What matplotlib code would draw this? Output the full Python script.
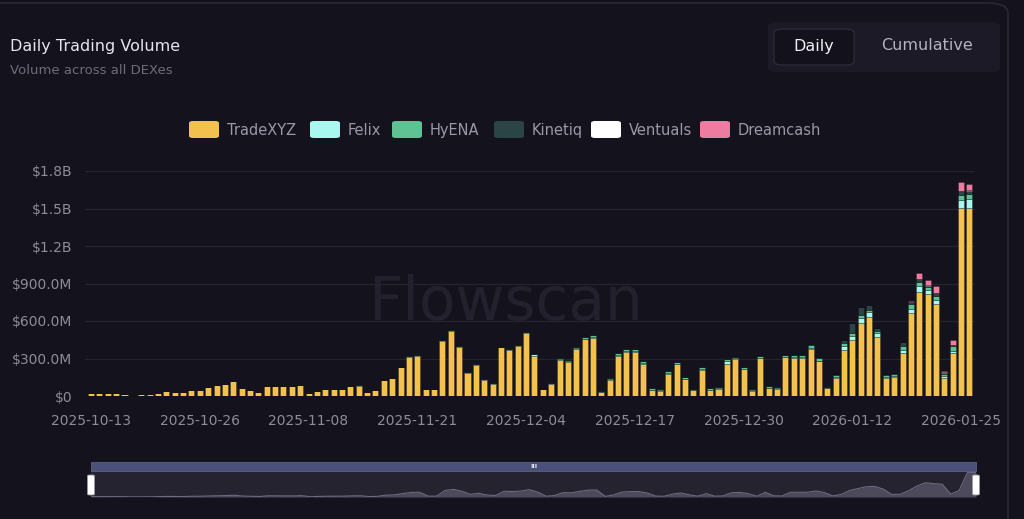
import pandas as pd
import matplotlib
matplotlib.use('Agg')
import matplotlib.pyplot as plt
from matplotlib.patches import FancyBboxPatch, Rectangle
from matplotlib.ticker import FuncFormatter

# daily volume per DEX, in $M, from 2025-10-13
start_date = '2025-10-13'
tradexyz = [28, 28, 26, 24, 20, 12, 14, 14, 28, 40, 36, 30, 52, 52, 70, 85, 100, 120, 65, 50,
            36, 80, 80, 78, 78, 92, 22, 40, 54, 56, 58, 80, 82, 30, 45, 126, 145, 232, 314, 319,
            56, 56, 444, 519, 390, 187, 252, 131, 99, 389, 372, 402, 504, 324, 56, 99, 291, 273, 373, 453,
            468, 34, 130, 321, 351, 352, 260, 45, 41, 180, 254, 135, 47, 209, 48, 59, 255, 295, 213, 43,
            303, 64, 58, 309, 301, 307, 375, 277, 62, 146, 368, 446, 582, 632, 470, 144, 150, 344, 667, 836,
            816, 734, 148, 344, 1508, 1507]
felix = [0, 0, 0, 0, 0, 0, 0, 0, 0, 0, 0, 0, 0, 0, 0, 0, 0, 0, 0, 0,
         0, 0, 0, 0, 0, 0, 0, 0, 0, 0, 0, 0, 3, 0, 0, 2, 2, 3, 6, 6,
         2, 2, 6, 6, 8, 3, 4, 2, 2, 6, 6, 6, 6, 12, 2, 2, 4, 5, 8, 6,
         6, 2, 4, 6, 8, 8, 8, 4, 4, 6, 6, 4, 3, 8, 3, 6, 27, 8, 6, 3,
         4, 4, 4, 6, 8, 6, 12, 6, 3, 5, 32, 32, 40, 37, 37, 5, 12, 27, 27, 45,
         32, 32, 11, 13, 64, 67]
hyena = [0, 0, 0, 0, 0, 0, 0, 0, 0, 0, 0, 0, 0, 0, 0, 0, 0, 0, 0, 0,
         0, 0, 0, 0, 0, 0, 0, 0, 0, 0, 0, 0, 0, 0, 0, 0, 0, 0, 0, 0,
         0, 0, 0, 0, 0, 0, 0, 0, 0, 0, 0, 0, 0, 0, 0, 0, 6, 10, 14, 16,
         14, 6, 8, 14, 14, 16, 10, 12, 8, 14, 14, 10, 8, 12, 10, 10, 14, 12, 10, 10,
         16, 12, 10, 16, 16, 16, 20, 24, 8, 19, 21, 27, 27, 21, 16, 21, 15, 32, 40, 35,
         24, 32, 21, 40, 40, 40]
kinetiq = [0] * 85 + [2, 8, 3, 2, 3, 27, 80, 61, 40, 24, 5, 10, 27, 16, 19,
                      11, 27, 8, 8, 27, 29]
ventuals = [0] * 98 + [2, 2, 2, 2, 2, 2, 2, 2]
dreamcash = [0] * 98 + [10, 48, 40, 53, 8, 43, 70, 50]

names = ['TradeXYZ', 'Felix', 'HyENA', 'Kinetiq', 'Ventuals', 'Dreamcash']
colors = ['#f2c14e', '#a8f8f0', '#5ec292', '#2b4446', '#ffffff', '#ee7ba0']
series = [tradexyz, felix, hyena, kinetiq, ventuals, dreamcash]

BG = '#14121d'
W, H = 1024, 519


def fx(x):
    return x / W


def fy(y):
    return 1 - y / H


def fmt_money(v, pos=None):
    if v == 0:
        return '$0'
    if v >= 1e9:
        return '$%.1fB' % (v / 1e9)
    return '$%.1fM' % (v / 1e6)


dates = pd.date_range(start_date, periods=len(tradexyz), freq='D')
df = pd.DataFrame({n: [v * 1e6 for v in s] for n, s in zip(names, series)}, index=dates)
total = df.sum(axis=1)
idx = list(range(len(df)))

fig = plt.figure(figsize=(W / 100, H / 100), dpi=100, facecolor=BG)

# card outline
fig.patches.append(FancyBboxPatch((fx(-20), fy(535)), fx(1028), fy(3) - fy(535),
                                  boxstyle='round,pad=0,rounding_size=0.02',
                                  transform=fig.transFigure, facecolor='none',
                                  edgecolor='#2a2834', lw=1.2, zorder=-1))

# header
fig.text(fx(10), fy(47), 'Daily Trading Volume', color='#e6e5ec', fontsize=11.5,
         va='center', ha='left')
fig.text(fx(10), fy(71), 'Volume across all DEXes', color='#6e6c7a', fontsize=9.5,
         va='center', ha='left')

# toggle
fig.patches.append(FancyBboxPatch((fx(768), fy(72)), fx(232), fy(22) - fy(72),
                                  boxstyle='round,pad=0,rounding_size=0.008',
                                  transform=fig.transFigure, facecolor='#1c1a26',
                                  edgecolor='none', zorder=1))
fig.patches.append(FancyBboxPatch((fx(774), fy(65)), fx(80), fy(29) - fy(65),
                                  boxstyle='round,pad=0,rounding_size=0.008',
                                  transform=fig.transFigure, facecolor='#13111b',
                                  edgecolor='#2c2a36', lw=1, zorder=2))
fig.text(fx(814), fy(46), 'Daily', color='#f0eff5', fontsize=11.5, ha='center', va='center', zorder=3)
fig.text(fx(927), fy(46), 'Cumulative', color='#b4b2be', fontsize=11.5, ha='center', va='center', zorder=3)

# legend
leg_x = [189, 310, 392, 494, 591, 700]
for x0, n, c in zip(leg_x, names, colors):
    fig.patches.append(FancyBboxPatch((fx(x0), fy(138)), fx(30), fy(121) - fy(138),
                                      boxstyle='round,pad=0,rounding_size=0.004',
                                      transform=fig.transFigure, facecolor=c,
                                      edgecolor='none', zorder=2))
    fig.text(fx(x0 + 38), fy(130), n, color='#9b99a7', fontsize=10.5, ha='left', va='center')

# main chart
ax = fig.add_axes([fx(85), fy(396), fx(975 - 85), fy(171) - fy(396)])
ax.set_facecolor('none')
bottom = [0.0] * len(df)
for n, c in zip(names, colors):
    vals = df[n].values
    ax.bar(idx, vals, width=0.72, bottom=bottom, color=c,
           edgecolor=(0, 0, 0, 0.35), linewidth=0.5, zorder=3)
    bottom = [b + v for b, v in zip(bottom, vals)]

ax.set_ylim(0, 1.8e9)
ax.set_xlim(-0.72, len(df) - 0.34)
ax.set_yticks([0, 3e8, 6e8, 9e8, 1.2e9, 1.5e9, 1.8e9])
ax.yaxis.set_major_formatter(FuncFormatter(fmt_money))
ticks = idx[::13]
ax.set_xticks(ticks)
ax.set_xticklabels([dates[i].strftime('%Y-%m-%d') for i in ticks])
ax.tick_params(axis='both', length=0, colors='#8e8c99', labelsize=10)
ax.tick_params(axis='y', pad=9)
ax.tick_params(axis='x', pad=13)
ax.grid(axis='y', color='#25232f', lw=0.9, zorder=0)
for s in ax.spines.values():
    s.set_visible(False)
ax.text(0.472, 0.413, 'Flowscan', transform=ax.transAxes, ha='center', va='center',
        fontsize=43, color='#23212d', zorder=1)

# range slider with overview area
sl = fig.add_axes([fx(91), fy(497), fx(976 - 91), fy(471) - fy(497)])
sl.set_facecolor('#25232f')
sl.fill_between(idx, total.values, color='#4d4a5c', lw=0)
sl.plot(idx, total.values, color='#6c6980', lw=0.8)
sl.set_xlim(0, len(df) - 1)
sl.set_ylim(0, total.max() * 1.05)
sl.set_xticks([])
sl.set_yticks([])
for s in sl.spines.values():
    s.set_visible(False)

fig.patches.append(Rectangle((fx(91), fy(471)), fx(885), fy(462) - fy(471),
                             transform=fig.transFigure, facecolor='#4a5079',
                             edgecolor='#5a6088', lw=0.6, zorder=5))
fig.text(fx(534), fy(466.5), 'III', color='#e8e8f0', fontsize=4.5, ha='center', va='center',
         zorder=6, fontweight='bold')
for hx in [91, 976]:
    fig.patches.append(FancyBboxPatch((fx(hx - 3.5), fy(495)), fx(7), fy(475) - fy(495),
                                      boxstyle='round,pad=0,rounding_size=0.002',
                                      transform=fig.transFigure, facecolor='#ffffff',
                                      edgecolor='#9a98a8', lw=0.6, zorder=6))

fig.savefig('out.png', dpi=100, facecolor=BG)
